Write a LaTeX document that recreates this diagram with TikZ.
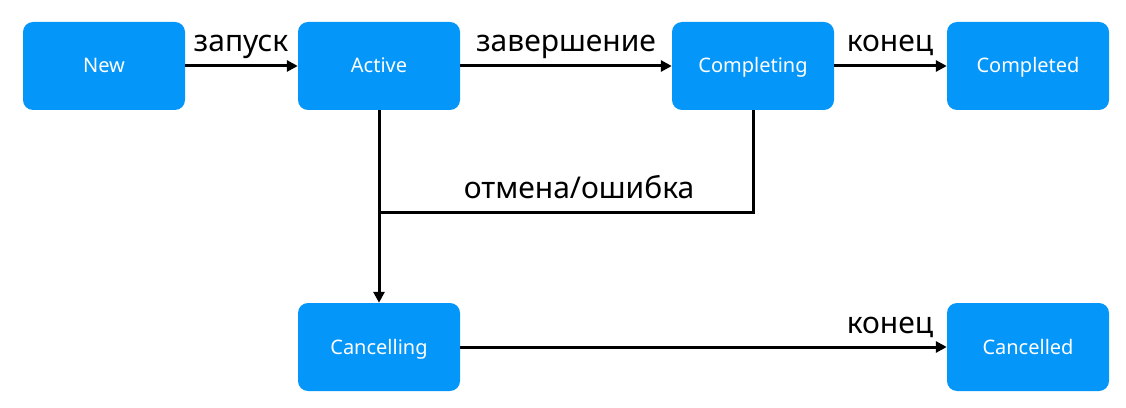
\documentclass[tikz,border=0pt]{standalone}
\usepackage{fontspec}
\setmainfont{Noto Sans}
\usetikzlibrary{arrows.meta}
\definecolor{stateblue}{RGB}{5,150,250}
\begin{document}
\begin{tikzpicture}[x=1pt,y=1pt,
  state/.style={fill=stateblue, draw=none, rounded corners=10pt,
    minimum width=162pt, minimum height=88pt, inner sep=0pt,
    text height=14pt, text depth=0pt,
    text=white, font=\fontsize{20}{24}\selectfont},
  flow/.style={line width=3pt, -{Triangle[length=11pt,width=11pt]}},
  plain/.style={line width=3pt},
  lbl/.style={anchor=base, inner sep=0pt, font=\fontsize{30}{34}\selectfont}]
\useasboundingbox (0,0) rectangle (1126,407);

% states
\node[state] (new)        at (104,341)  {New};
\node[state] (active)     at (379,341)  {Active};
\node[state] (completing) at (753,341)  {Completing};
\node[state] (completed)  at (1028,341) {Completed};
\node[state] (cancelling) at (379,60)   {Cancelling};
\node[state] (cancelled)  at (1028,60)  {Cancelled};

% transitions
\draw[flow] (new) -- (active);
\draw[flow] (active) -- (completing);
\draw[flow] (completing) -- (completed);
\draw[flow] (active) -- (cancelling);
\draw[flow] (cancelling) -- (cancelled);

% failure branch joins the Active -> Cancelling line
\coordinate (join) at (379,194);
\draw[plain] (completing.south) |- (join);

% labels
\node[lbl] (l1) at (241,355) {запуск};
\node[lbl] (l2) at (566,355) {завершение};
\node[lbl] (l3) at (890,355) {конец};
\node[lbl] (l4) at (579,208) {отмена/ошибка};
\node[lbl] (l5) at (890,74)  {конец};
\end{tikzpicture}
\end{document}
